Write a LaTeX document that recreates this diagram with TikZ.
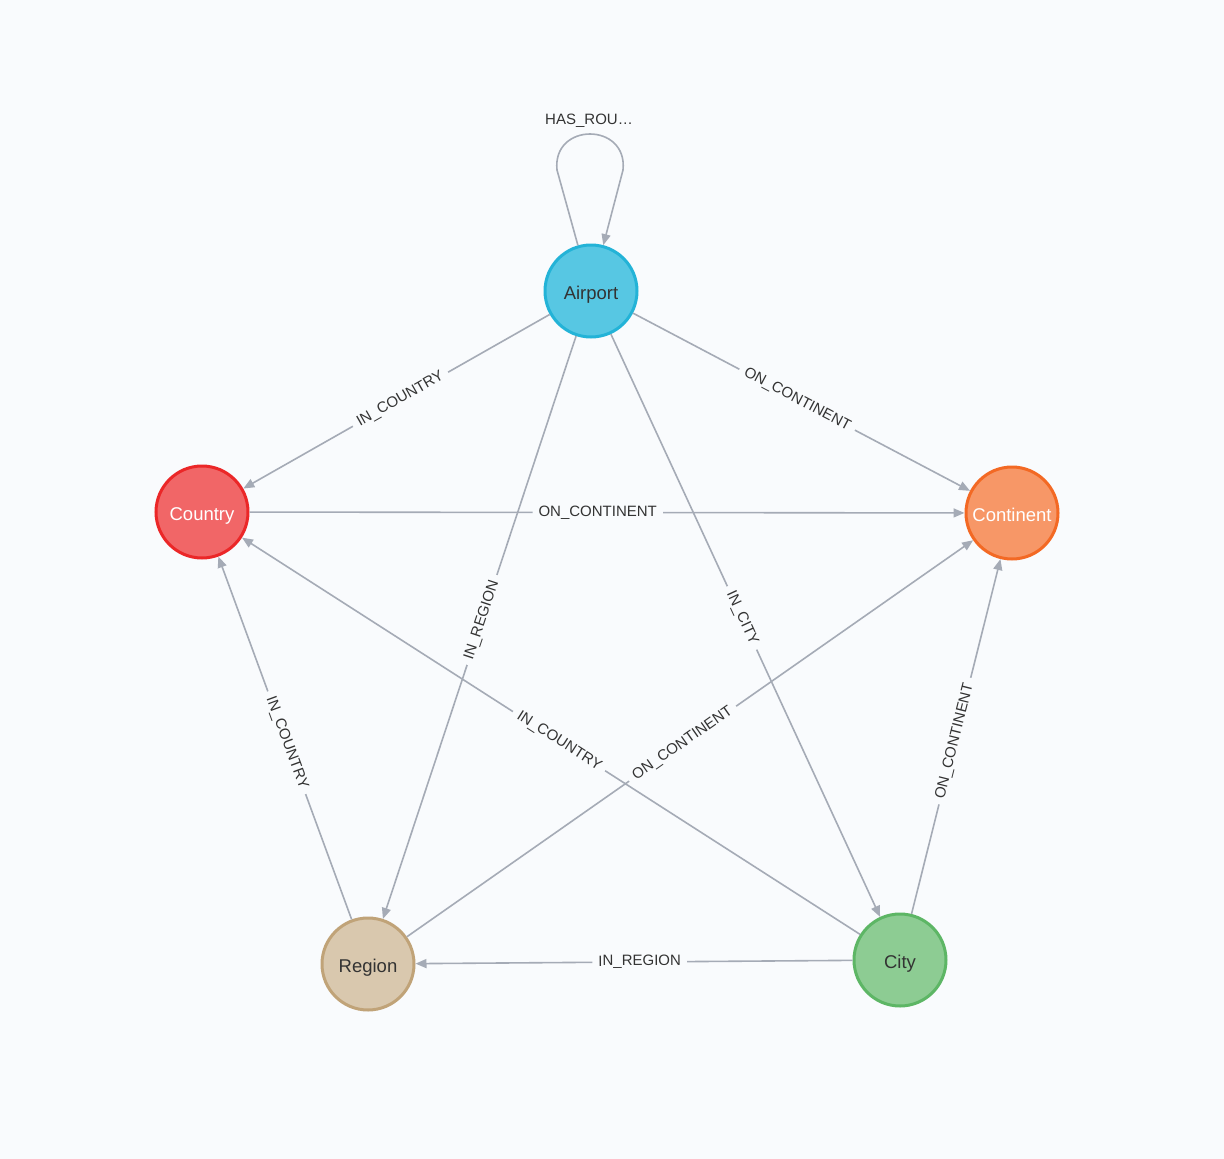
\documentclass[tikz,border=0pt]{standalone}
\usepackage{fontspec}
\setmainfont{Liberation Sans}
\usetikzlibrary{arrows.meta}
\definecolor{bg}{HTML}{F9FBFD}
\definecolor{edgec}{HTML}{A5ABB6}
\definecolor{txt}{HTML}{333333}
\definecolor{apF}{HTML}{57C7E3}\definecolor{apB}{HTML}{23B3D7}
\definecolor{coF}{HTML}{F16667}\definecolor{coB}{HTML}{EB2728}
\definecolor{ctF}{HTML}{F79767}\definecolor{ctB}{HTML}{F36924}
\definecolor{rgF}{HTML}{D9C8AE}\definecolor{rgB}{HTML}{C0A378}
\definecolor{ciF}{HTML}{8DCC93}\definecolor{ciB}{HTML}{5DB665}
\begin{document}
\begin{tikzpicture}[x=1pt,y=-1pt,
  gnode/.style={circle,minimum size=92pt,inner sep=0pt,line width=3pt,
    text height=17pt,text depth=0pt,font=\fontsize{18.5}{20}\selectfont},
  rel/.style={draw=edgec,line width=1.6pt,-{Triangle[length=11pt,width=9pt]}},
  lab/.style={fill=bg,inner xsep=6pt,inner ysep=2pt,text=txt,font=\fontsize{15}{16}\selectfont,sloped,pos=0.487}]
\fill[bg] (0,0) rectangle (1224,1159);
\node[gnode,fill=apF,draw=apB,text=txt] (ap) at (591,291) {Airport};
\node[gnode,fill=coF,draw=coB,text=white] (co) at (202,512) {Country};
\node[gnode,fill=ctF,draw=ctB,text=white] (ct) at (1012,513) {Continent};
\node[gnode,fill=rgF,draw=rgB,text=txt] (rg) at (368,964) {Region};
\node[gnode,fill=ciF,draw=ciB,text=txt] (ci) at (900,960) {City};
\draw[rel] (ap) -- node[lab]{IN\_COUNTRY} (co);
\draw[rel] (ap) -- node[lab]{ON\_CONTINENT} (ct);
\draw[rel] (ap) -- node[lab]{IN\_REGION} (rg);
\draw[rel] (ap) -- node[lab]{IN\_CITY} (ci);
\draw[rel] (co) -- node[lab]{ON\_CONTINENT} (ct);
\draw[rel] (ci) -- node[lab]{IN\_COUNTRY} (co);
\draw[rel] (rg) -- node[lab]{IN\_COUNTRY} (co);
\draw[rel] (rg) -- node[lab]{ON\_CONTINENT} (ct);
\draw[rel] (ci) -- node[lab]{ON\_CONTINENT} (ct);
\draw[rel] (ci) -- node[lab]{IN\_REGION} (rg);
\coordinate (l1) at (557,170);
\coordinate (l2) at (623,170);
\draw[rel] (ap.106) -- (l1) .. controls (552,122) and (628,122) .. (l2) -- (ap.75);
\node[text=txt,font=\fontsize{15}{16}\selectfont] (hr) at (589,121) {HAS\_ROU…};
\end{tikzpicture}
\end{document}
